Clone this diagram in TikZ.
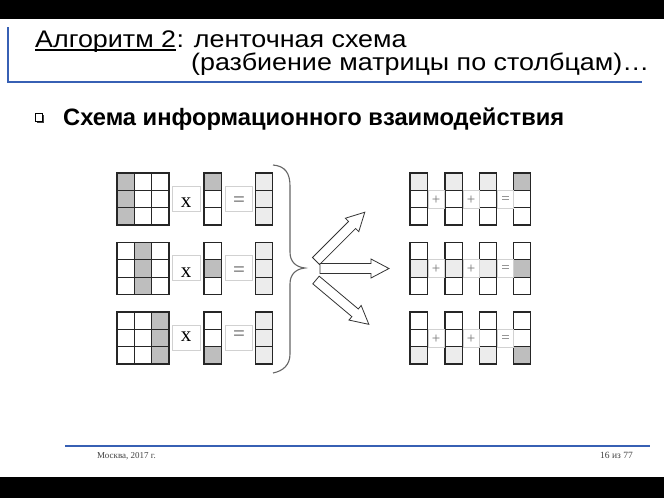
\documentclass[tikz,border=0pt]{standalone}
\usepackage{fontspec}
\setmainfont{Liberation Serif}
\newfontfamily\headfont{Liberation Sans}
\newfontfamily\wideheadfont[FakeStretch=1.12]{Liberation Sans}
\usepackage{tikz}

\definecolor{slideblue}{RGB}{55,96,180}
\definecolor{cellgray}{RGB}{190,190,190}
\definecolor{palegray}{RGB}{236,236,236}

\begin{document}
\begin{tikzpicture}[x=1pt, y=-1pt,
        cell/.style={draw=black!85, line width=1.3pt},
        opbox/.style={draw=black!18, line width=0.7pt},
        sign/.style={font=\fontsize{21}{21}\selectfont, inner sep=0},
        plus/.style={font=\fontsize{15}{15}\selectfont, text=black!55, inner sep=0},
        blockarrow/.style={draw=black!80, line width=0.8pt, fill=white},
        brace/.style={draw=black!60, line width=1.1pt},
        headline/.style={anchor=base west, inner sep=0,
            font=\wideheadfont\fontsize{24}{28}\selectfont}]

        \useasboundingbox (0,0) rectangle (664,498);

        % black bars
        \fill[black] (0,0) rectangle (664,19);
        \fill[black] (0,477) rectangle (664,498);

        % title
        \draw[slideblue, line width=1.5pt]
            (8,27) -- (8,82) -- (642,82);

        \node[headline, text depth=1pt] (algo) at (35,47) {Алгоритм 2};
        \node[headline, text depth=1pt] (titlerest) at (algo.base east) {: ленточная схема};
        \node[headline, text height=15pt] (subtitle) at (191,70) {(разбиение матрицы по столбцам)…};
        \draw[line width=1.3pt]
            ([yshift=-3pt]algo.base west) -- ([yshift=-3pt]algo.base east);

        % bullet
        \fill[black!75] (36.5,114.5) rectangle (44,123);
        \draw[fill=white, line width=0.8pt] (35,113) rectangle (42.5,121.5);
        \node[anchor=base west, inner sep=0, font=\headfont\bfseries\fontsize{23.7}{28}\selectfont]
            (bullettext) at (63,125) {Схема информационного взаимодействия};

        % three rows: matrix x vector = column, then the sums
        \foreach \r/\rowy/\dy in {1/173/30, 2/242.5/30, 3/312/25}{
            % matrix
            \fill[cellgray] ({117+(\r-1)*17.33},\rowy) rectangle ++(17.33,52);
            \foreach \i in {0,1,2}
                \foreach \j in {0,1,2}
                    \draw[cell] ({117+\i*17.33},{\rowy+\j*17.33}) rectangle ++(17.33,17.33);

            % vector
            \fill[cellgray] (204,{\rowy+(\r-1)*17.33}) rectangle ++(17.3,17.33);
            \foreach \j in {0,1,2}
                \draw[cell] (204,{\rowy+\j*17.33}) rectangle ++(17.3,17.33);

            % result
            \fill[palegray] (255.5,\rowy) rectangle ++(17.3,52);
            \foreach \j in {0,1,2}
                \draw[cell] (255.5,{\rowy+\j*17.33}) rectangle ++(17.3,17.33);

            \draw[opbox] (172,{\rowy+13}) rectangle (200,{\rowy+38});
            \draw[opbox] (225,{\rowy+13}) rectangle (252,{\rowy+38});
            \node[sign] (mul\r) at (186,{\rowy+\dy}) {x};
            \node[sign, text=black!65] (eq\r) at (239,{\rowy+\dy-1}) {=};

            % partial sums
            \foreach \cx in {410,445,479.5}
                \fill[palegray] (\cx,{\rowy+(\r-1)*17.33}) rectangle ++(17.3,17.33);
            \fill[cellgray] (513.5,{\rowy+(\r-1)*17.33}) rectangle ++(17.3,17.33);
            \foreach \cx in {410,445,479.5,513.5}
                \foreach \j in {0,1,2}
                    \draw[cell] (\cx,{\rowy+\j*17.33}) rectangle ++(17.3,17.33);

            \draw[opbox] (428,{\rowy+17}) rectangle (444,{\rowy+35});
            \draw[opbox] (463,{\rowy+17}) rectangle (479,{\rowy+35});
            \draw[opbox] (497.5,{\rowy+17}) rectangle (513,{\rowy+35});
            \node[plus] (plusa\r) at (436,{\rowy+27}) {+};
            \node[plus] (plusb\r) at (471,{\rowy+27}) {+};
            \node[plus] (sum\r) at (505.5,{\rowy+27}) {=};
        }

        % brace
        \draw[brace]
            (273,165) .. controls (285,166) and (290,173) .. (290,186)
            -- (290,252) .. controls (290,262) and (296,267) .. (305,268)
            .. controls (296,269) and (290,274) .. (290,284)
            -- (290,354) .. controls (290,365) and (283,371) .. (273,373);

        % block arrows
        \foreach \sx/\sy/\a in {316/261/45, 320/268.5/0, 316/280/-40}
            \draw[blockarrow, shift={(\sx,\sy)}, rotate=\a]
                (0,-5) -- (51,-5) -- (51,-9.5) -- (69,0)
                -- (51,9.5) -- (51,5) -- (0,5) -- cycle;

        % footer
        \draw[slideblue, line width=2.5pt] (65,446) -- (650,446);
        \node[anchor=base west, inner sep=0, text=black!75, font=\fontsize{9}{11}\selectfont]
            (city) at (97,458) {Москва, 2017 г.};
        \node[anchor=base east, inner sep=0, text=black!75, font=\fontsize{9.5}{11}\selectfont]
            (page) at (633,458) {16 из 77};

\end{tikzpicture}
\end{document}
